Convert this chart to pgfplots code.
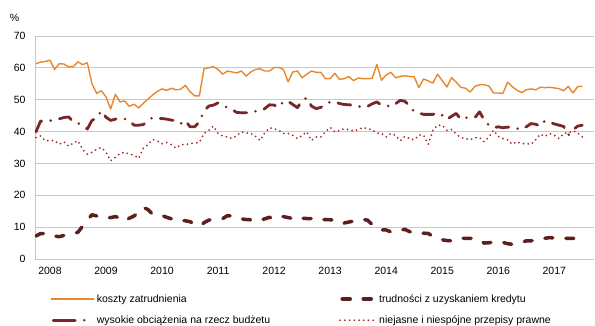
\documentclass[border=0pt]{standalone}
\usepackage{fontspec}
\setmainfont{Liberation Sans}
\usepackage{pgfplots}
\pgfplotsset{compat=1.18}
\usepackage{pgfplotstable}
\usetikzlibrary{calc}

\definecolor{koszty}{RGB}{232,136,44}
\definecolor{kredyt}{RGB}{94,30,30}
\definecolor{obc}{RGB}{122,38,40}
\definecolor{przep}{RGB}{170,40,40}
\definecolor{siatka}{RGB}{200,200,200}

\pgfplotsset{
    leg koszty/.style={legend image code/.code={\draw[##1] (0pt,0pt) -- (43pt,0pt);}},
    leg kredyt/.style={legend image code/.code={\draw[##1] (3pt,0pt) -- (33pt,0pt);}},
    leg obc/.style={legend image code/.code={\draw[##1, dash pattern=on 22pt off 9pt on 0pt off 20pt] (2pt,0pt) -- (40pt,0pt);}},
    leg przep/.style={legend image code/.code={\draw[##1] (1pt,0pt) -- (37pt,0pt);}},
}

% i = miesiac (0 = pazdziernik 2007), k = koszty, c = kredyt, o = obciazenia, p = przepisy
\pgfplotstableread{
i k c o p
0 61.3 7.2 39.9 38.1
1 61.8 8.0 43.3 38.6
2 62.0 8.0 43.1 37.1
3 62.4 7.6 43.4 37.2
4 59.5 7.2 43.8 37.1
5 61.3 7.0 44.0 36.0
6 61.2 7.4 44.4 36.8
7 60.3 7.7 44.6 35.4
8 60.4 8.0 43.0 36.4
9 61.9 8.4 42.6 37.1
10 61.0 10.3 42.0 34.4
11 61.6 12.2 40.8 32.9
12 55.0 13.9 43.5 33.5
13 52.0 13.5 44.2 34.4
14 52.8 13.0 46.5 35.0
15 50.9 12.8 44.5 33.5
16 47.1 13.0 43.5 30.8
17 51.7 13.3 43.9 31.9
18 49.3 12.9 44.0 33.1
19 49.6 11.9 44.0 33.5
20 47.9 12.8 43.5 32.9
21 48.6 13.5 42.0 32.6
22 47.4 14.6 42.0 31.6
23 48.9 16.2 42.2 34.8
24 50.2 15.5 43.5 35.9
25 51.5 14.0 44.4 37.5
26 52.6 13.8 44.1 37.1
27 53.4 13.6 44.1 36.2
28 52.9 13.1 43.9 36.5
29 53.6 12.6 43.6 35.9
30 53.1 12.0 43.4 34.8
31 53.3 12.1 42.5 35.9
32 54.5 12.0 43.5 35.9
33 52.5 11.7 41.5 36.2
34 51.2 11.0 41.5 36.4
35 51.2 10.3 43.0 36.6
36 59.8 11.4 46.5 39.4
37 60.0 12.2 48.0 40.4
38 60.4 12.4 48.3 41.7
39 59.5 12.5 49.0 39.4
40 58.0 12.7 48.3 38.6
41 59.0 13.6 47.5 38.3
42 58.7 13.5 46.9 37.8
43 58.4 13.0 46.0 38.8
44 59.0 12.6 45.9 39.9
45 57.4 12.4 45.9 39.5
46 58.7 12.3 46.2 39.5
47 59.5 11.8 46.4 38.5
48 59.7 12.2 46.4 37.2
49 59.0 12.6 47.2 39.6
50 59.0 13.1 48.4 41.2
51 60.1 12.5 48.3 40.9
52 60.1 13.0 47.6 40.4
53 59.5 13.3 49.5 39.4
54 55.6 13.0 49.5 39.4
55 58.7 12.7 48.5 38.8
56 59.0 13.3 47.5 37.8
57 56.9 12.8 49.8 38.8
58 58.0 12.7 50.6 39.9
59 59.0 12.7 48.0 37.2
60 58.6 12.3 47.2 38.3
61 58.6 12.3 47.6 38.3
62 56.6 12.4 48.4 39.9
63 56.6 12.3 49.3 41.3
64 58.3 12.2 49.4 39.9
65 56.4 12.2 48.8 40.3
66 56.6 11.3 48.5 40.9
67 57.3 11.6 48.4 40.6
68 56.0 11.9 48.3 40.2
69 56.8 12.2 48.0 40.6
70 56.6 12.4 47.5 41.3
71 56.6 12.2 47.9 40.9
72 56.7 10.8 48.7 40.6
73 61.1 10.0 49.3 39.5
74 56.1 9.1 48.3 39.4
75 57.8 9.1 48.2 38.3
76 58.6 8.5 47.8 39.4
77 56.9 8.6 48.7 38.8
78 57.3 9.0 49.8 37.1
79 57.5 9.3 49.5 38.5
80 57.3 8.6 48.0 37.8
81 57.2 8.2 46.3 37.4
82 53.8 8.1 45.8 38.9
83 56.5 8.1 45.4 38.9
84 55.9 8.0 45.4 36.0
85 55.2 7.1 45.4 40.4
86 58.0 6.4 45.9 42.0
87 56.0 6.0 45.1 42.0
88 54.0 5.8 43.8 40.4
89 56.9 5.7 44.8 40.6
90 55.5 6.4 45.7 39.2
91 53.9 6.5 43.8 38.1
92 53.6 6.5 44.3 37.8
93 52.4 6.5 44.4 37.4
94 54.2 6.5 44.4 38.1
95 54.7 5.8 46.2 38.1
96 54.7 5.0 43.6 36.8
97 54.3 5.1 42.0 38.3
98 52.1 5.3 41.2 40.4
99 52.1 5.4 41.5 38.5
100 52.0 5.2 41.2 37.8
101 55.5 4.8 41.4 37.4
102 54.1 4.6 41.3 36.0
103 53.0 4.9 41.0 36.8
104 52.2 5.2 40.6 36.2
105 53.1 5.7 41.5 36.2
106 53.4 5.7 42.5 36.0
107 53.1 5.9 42.3 37.4
108 53.9 6.2 41.7 39.2
109 53.8 6.5 43.4 38.5
110 53.9 6.7 42.9 39.4
111 53.7 6.6 42.4 38.8
112 53.5 6.5 42.0 37.8
113 52.8 6.5 41.6 39.4
114 54.2 6.5 38.9 39.6
115 52.1 6.5 40.5 40.2
116 54.1 6.0 41.7 39.6
117 54.2 7.5 42.0 38.3
}\dane

\begin{document}
\begin{tikzpicture}
\begin{axis}[
    name=ax,
    scale only axis,
    width=559pt, height=223pt,
    xmin=-0.2, xmax=119.5,
    ymin=0, ymax=70,
    ytick={0,10,...,70},
    xtick={3,15,27,39,51,63,75,87,99,111},
    xticklabels={2008,2009,2010,2011,2012,2013,2014,2015,2016,2017},
    ymajorgrids,
    grid style={siatka, line width=0.8pt},
    axis lines=left,
    axis line style={-, draw=siatka, line width=0.8pt},
    major tick length=0pt,
    font=\fontsize{10.5}{12}\selectfont,
    /pgf/number format/assume math mode=true,
    yticklabel style={xshift=-6pt},
    xticklabel style={yshift=-5pt},
    no markers,
    legend columns=2,
    legend cell align=left,
    legend style={draw=none, fill=none, at={(0.022,-0.14)}, anchor=north west,
        font=\fontsize{10.5}{12}\selectfont, row sep=8pt,
        /tikz/every even column/.append style={column sep=67pt}},
]
\addplot[koszty, line width=1.4pt, line join=round, leg koszty]
    table[x=i, y=k] {\dane};
\addlegendentry{koszty zatrudnienia}
\addplot[kredyt, line width=3.5pt, line cap=round, line join=round,
    dash pattern=on 8pt off 13pt, leg kredyt]
    table[x=i, y=c] {\dane};
\addlegendentry{trudności z uzyskaniem kredytu}
\addplot[obc, line width=2.8pt, line cap=round, line join=round,
    dash pattern=on 13pt off 9pt on 0pt off 9pt, leg obc]
    table[x=i, y=o] {\dane};
\addlegendentry{wysokie obciążenia na rzecz budżetu}
\addplot[przep, line width=2pt, line cap=round,
    dash pattern=on 0pt off 4.7pt, leg przep]
    table[x=i, y=p] {\dane};
\addlegendentry{niejasne i niespójne przepisy prawne}
\end{axis}
\node[font=\fontsize{10.5}{12}\selectfont] at ($(ax.north west)+(-20.5pt,18.5pt)$) {\%};
\pgfresetboundingbox
\path[use as bounding box] ($(ax.south west)+(-35pt,-67pt)$) rectangle ($(ax.north east)+(1pt,36pt)$);
\end{tikzpicture}
\end{document}
